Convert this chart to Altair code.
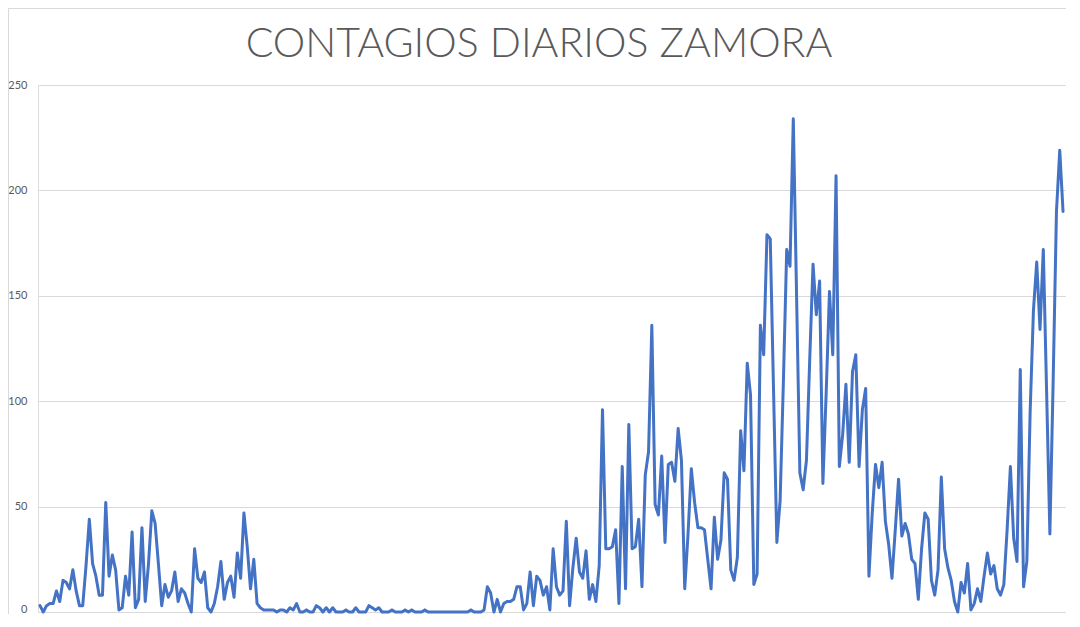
import altair as alt
import pandas as pd

title_text = "CONTAGIOS DIARIOS ZAMORA"

# Daily cases (first wave, flat summer, second and third waves)
wave1 = [3, 0, 3, 4, 4, 10, 5, 15, 14, 11,
         20, 10, 3, 3, 22, 44, 23, 17, 8, 8,
         52, 17, 27, 20, 1, 2, 17, 8, 38, 2,
         6, 40, 5, 23, 48, 42, 23, 3, 13, 7,
         10, 19, 5, 11, 9, 4, 0, 30, 16, 14,
         19, 2, 0, 4, 12, 24, 6, 14, 17, 7,
         28, 16, 47, 31, 11, 25, 4, 2]
summer = [1, 1, 1, 1, 0, 1, 1, 0, 2, 1,
          4, 0, 0, 1, 0, 0, 3, 2, 0, 2,
          0, 2, 0, 0, 0, 1, 0, 0, 2, 0,
          0, 0, 3, 2, 1, 2, 0, 0, 0, 1,
          0, 0, 0, 1, 0, 1, 0, 0, 0, 1,
          0, 0, 0, 0, 0, 0, 0, 0, 0, 0,
          0, 0]
rise = [0, 1, 0, 0, 0, 1, 12, 9, 0, 6,
        0, 4, 5, 5, 6, 12, 12, 1, 4, 19,
        3, 17, 15, 8, 12, 1, 30, 12, 8, 10,
        43, 3, 21, 35, 19, 16, 29, 6, 13, 5,
        22, 96, 30, 30, 31, 39, 4, 69, 11, 89,
        30, 31, 44, 12, 65, 76, 136]
wave2 = [51, 46, 74, 33, 70, 71, 62, 87, 72, 11,
         37, 68, 52, 40, 40, 39, 25, 11, 45, 25,
         34, 66, 63, 20, 15, 26, 86,
         67, 118, 103, 13, 18, 136, 122, 179, 177, 105,
         33, 53, 110, 172, 164, 234, 150, 66, 58, 72,
         120, 165, 141, 157, 61, 104, 152, 122, 207, 69,
         84, 108, 71, 114, 122, 69]
fall = [96, 106, 17, 47, 70, 59, 71, 43, 32, 16,
        39, 63, 36, 42, 37, 25, 23, 6, 30, 47,
        44, 15, 8, 20, 64, 30, 21, 15, 5, 0,
        14, 9, 23, 1, 4, 11, 5, 17, 28, 18,
        22, 11, 8]
wave3 = [13, 39, 69, 35, 24, 115, 12, 24, 95, 143,
         166, 134, 172, 105, 37, 110, 190, 219, 190]

values = wave1 + summer + rise + wave2 + fall + wave3
days = list(range(len(values)))
df = pd.DataFrame({"dia": days, "casos": values})
title_df = pd.DataFrame({"texto": [title_text]})

y_ticks = [0, 50, 100, 150, 200, 250]
n = len(values)

line = alt.Chart(df).mark_line(
    color="#4472C4", strokeWidth=3, strokeJoin="round", strokeCap="round", clip=False
).encode(
    x=alt.X("dia:Q", scale=alt.Scale(domain=[-0.6, n - 1 + 0.9], nice=False, zero=False),
            axis=alt.Axis(title=None, labels=False, ticks=False, grid=False,
                          domain=True, domainColor="#D9D9D9", domainWidth=1)),
    y=alt.Y("casos:Q", scale=alt.Scale(domain=[0, 250], nice=False),
            axis=alt.Axis(title=None, values=y_ticks, domain=False, ticks=False,
                          grid=True, gridColor="#D9D9D9", gridWidth=1,
                          labelColor="#595959", labelFont="Lato", labelFontSize=11,
                          labelPadding=11,
                          labelOffset={"condition": {"test": "datum.value === 0", "value": -3},
                                       "value": 0})),
)

frame = alt.Chart(title_df).mark_rect(
    fill=None, stroke="#D9D9D9", strokeWidth=1, clip=False
).encode(
    x=alt.value(-29.5), x2=alt.value(1060), y=alt.value(-76.5), y2=alt.value(560)
)

title = alt.Chart(title_df).mark_text(
    font="Lato", fontSize=41, fontWeight=300, color="#595959", align="center",
    baseline="alphabetic"
).encode(
    text="texto:N", x=alt.value(501), y=alt.value(-28)
)

chart = alt.layer(frame, line, title).properties(
    width=1028,
    height=527,
    padding={"left": 30, "top": 77, "right": 0, "bottom": 2},
    autosize=alt.AutoSizeParams(type="none"),
).configure_view(stroke=None).configure(background="white")

chart.save("out.html", embed_options={"renderer": "svg", "actions": False})
